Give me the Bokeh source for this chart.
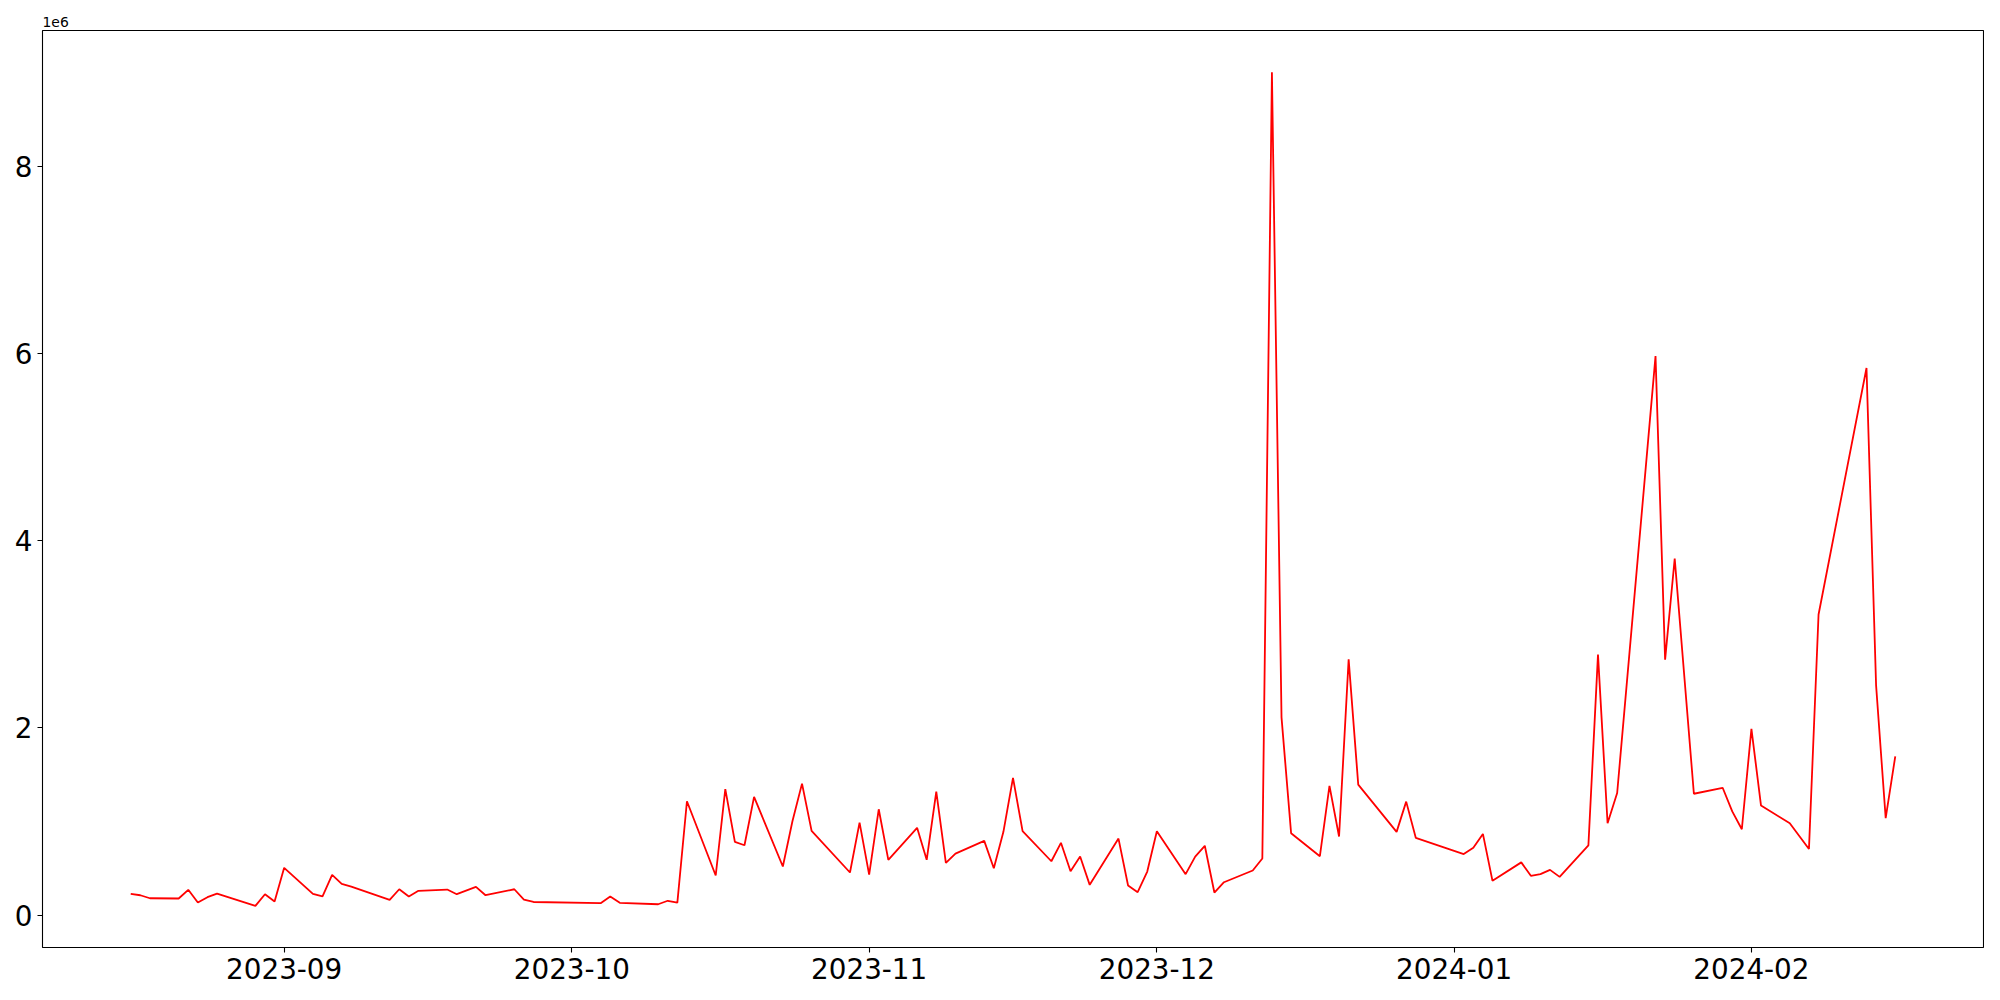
from datetime import datetime, timezone
from bokeh.plotting import figure
from bokeh.models import Range1d, FixedTicker, DatetimeTickFormatter, ColumnDataSource
from bokeh.embed import file_html
from bokeh.resources import INLINE

# ---- data (values in units of 1e6) ----
dates = [
    "2023-08-16", "2023-08-17", "2023-08-18", "2023-08-21", "2023-08-22", "2023-08-23",
    "2023-08-24", "2023-08-25", "2023-08-29", "2023-08-30", "2023-08-31", "2023-09-01",
    "2023-09-04", "2023-09-05", "2023-09-06", "2023-09-07", "2023-09-08", "2023-09-12",
    "2023-09-13", "2023-09-14", "2023-09-15", "2023-09-18", "2023-09-19", "2023-09-21",
    "2023-09-22", "2023-09-25", "2023-09-26", "2023-09-27", "2023-10-04", "2023-10-05",
    "2023-10-06", "2023-10-10", "2023-10-11", "2023-10-12", "2023-10-13", "2023-10-16",
    "2023-10-17", "2023-10-18", "2023-10-19", "2023-10-20", "2023-10-23", "2023-10-24",
    "2023-10-25", "2023-10-26", "2023-10-30", "2023-10-31", "2023-11-01", "2023-11-02",
    "2023-11-03", "2023-11-06", "2023-11-07", "2023-11-08", "2023-11-09", "2023-11-10",
    "2023-11-13", "2023-11-14", "2023-11-15", "2023-11-16", "2023-11-17", "2023-11-20",
    "2023-11-21", "2023-11-22", "2023-11-23", "2023-11-24", "2023-11-27", "2023-11-28",
    "2023-11-29", "2023-11-30", "2023-12-01", "2023-12-04", "2023-12-05", "2023-12-06",
    "2023-12-07", "2023-12-08", "2023-12-11", "2023-12-12", "2023-12-13", "2023-12-14",
    "2023-12-15", "2023-12-18", "2023-12-19", "2023-12-20", "2023-12-21", "2023-12-22",
    "2023-12-26", "2023-12-27", "2023-12-28", "2024-01-02", "2024-01-03", "2024-01-04",
    "2024-01-05", "2024-01-08", "2024-01-09", "2024-01-10", "2024-01-11", "2024-01-12",
    "2024-01-15", "2024-01-16", "2024-01-17", "2024-01-18", "2024-01-22", "2024-01-23",
    "2024-01-24", "2024-01-26", "2024-01-29", "2024-01-30", "2024-01-31", "2024-02-01",
    "2024-02-02", "2024-02-05", "2024-02-07", "2024-02-08", "2024-02-13", "2024-02-14",
    "2024-02-15", "2024-02-16",
]
values = [
    0.227, 0.212, 0.180, 0.177, 0.270, 0.134,
    0.191, 0.230, 0.099, 0.223, 0.145, 0.505,
    0.227, 0.199, 0.430, 0.334, 0.305, 0.163,
    0.276, 0.199, 0.259, 0.273, 0.223, 0.302,
    0.212, 0.276, 0.166, 0.140, 0.127, 0.199,
    0.131, 0.116, 0.153, 0.134, 1.216, 0.423,
    1.346, 0.782, 0.746, 1.262, 0.519, 1.002,
    1.404, 0.900, 0.455, 0.988, 0.433, 1.130,
    0.590, 0.932, 0.590, 1.319, 0.558, 0.657,
    0.793, 0.501, 0.889, 1.465, 0.897, 0.575,
    0.772, 0.469, 0.625, 0.323, 0.817, 0.316,
    0.244, 0.465, 0.895, 0.437, 0.625, 0.740,
    0.241, 0.351, 0.476, 0.604, 9.003, 2.112,
    0.874, 0.629, 1.380, 0.839, 2.731, 1.394,
    0.889, 1.212, 0.825, 0.652, 0.719, 0.867,
    0.366, 0.563, 0.420, 0.438, 0.483, 0.408,
    0.745, 2.782, 0.981, 1.304, 5.970, 2.728,
    3.809, 1.296, 1.360, 1.107, 0.917, 1.990,
    1.170, 0.981, 0.706, 3.211, 5.843, 2.453,
    1.035, 1.696,
]
x_tick_dates = ["2023-09-01", "2023-10-01", "2023-11-01", "2023-12-01", "2024-01-01", "2024-02-01"]
y_ticks = [0, 2, 4, 6, 8]
offset_text = "1e6"


def to_ms(s):
    d = datetime.strptime(s, "%Y-%m-%d").replace(tzinfo=timezone.utc)
    return d.timestamp() * 1000.0


xs = [to_ms(d) for d in dates]
src = ColumnDataSource(dict(x=xs, y=values))

xmin, xmax = min(xs), max(xs)
ymin, ymax = min(values), max(values)
xpad = 0.05 * (xmax - xmin)
ypad = 0.05 * (ymax - ymin)

FONT = "DejaVu Sans"

p = figure(
    width=1984, height=984,
    x_axis_type="datetime",
    x_range=Range1d(xmin - xpad, xmax + xpad),
    y_range=Range1d(ymin - ypad, ymax + ypad),
    output_backend="svg", toolbar_location=None,
    min_border_left=42, min_border_right=1, min_border_top=30, min_border_bottom=37,
)
p.background_fill_color = "white"
p.border_fill_color = "white"
p.grid.visible = False
p.outline_line_color = "black"
p.outline_line_width = 1.1
p.outline_line_alpha = 1.0

# offset text ("1e6") shown as a left-aligned title just above the frame
p.title.text = offset_text
p.title.align = "left"
p.title.offset = 0
p.title.standoff = 7
p.title.text_font = FONT
p.title.text_font_size = "13.9px"
p.title.text_font_style = "normal"
p.title.text_color = "black"

p.line("x", "y", source=src, line_color="red", line_width=1.8)

p.xaxis.ticker = FixedTicker(ticks=[to_ms(d) for d in x_tick_dates])
fmt = "%Y-%m"
p.xaxis.formatter = DatetimeTickFormatter(
    microseconds=fmt, milliseconds=fmt, seconds=fmt, minsec=fmt, minutes=fmt,
    hourmin=fmt, hours=fmt, days=fmt, months=fmt, years=fmt,
)
p.yaxis.ticker = FixedTicker(ticks=y_ticks)

for ax in (p.xaxis, p.yaxis):
    ax.axis_line_color = None
    ax.major_tick_line_color = "black"
    ax.major_tick_line_width = 1.1
    ax.major_tick_out = 5
    ax.major_tick_in = 0
    ax.minor_tick_line_color = None
    ax.major_label_text_font = FONT
    ax.major_label_text_font_size = "27.8px"
    ax.major_label_text_color = "black"
    ax.major_label_standoff = 5

open("out.html", "w").write(file_html(p, INLINE))
